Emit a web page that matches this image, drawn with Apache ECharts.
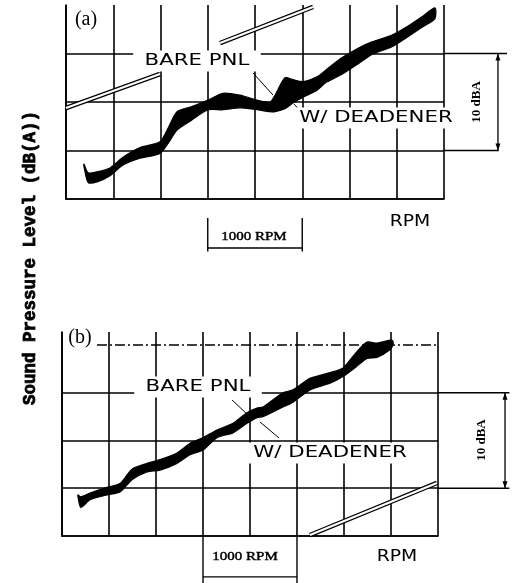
<!DOCTYPE html>
<html>
<head>
<meta charset="utf-8">
<script src="https://cdn.jsdelivr.net/npm/echarts@6/dist/echarts.min.js"></script>
<style>html,body{margin:0;padding:0;background:#fff}#main{width:516px;height:583px}</style>
</head>
<body>
<div id="main"></div>
<script>
// ---- data (RPM offset from left edge of grid, dB(A) relative) ----
const rpmA  = [190, 235, 328, 466, 603, 783, 995, 1085, 1175, 1325, 1503, 1661, 1841, 2021, 2159, 2212, 2317, 2402, 2508, 2656, 2751, 2910, 3101, 3238, 3450, 3598, 3767, 3904];
const bareA = [3.6, 2.7, 2.8, 3.2, 4.3, 5.3, 5.9, 7.4, 9.0, 9.5, 10.2, 10.9, 10.7, 10.2, 10.0, 10.7, 12.5, 12.3, 12.1, 12.6, 13.3, 14.5, 15.6, 16.2, 16.9, 17.7, 18.8, 19.7];
const deadA = [3.35, 1.7, 1.75, 2.4, 3.5, 4.2, 4.7, 5.8, 7.1, 8.1, 9.2, 9.2, 9.4, 9.2, 9.0, 9.0, 9.3, 9.9, 10.5, 11.2, 12.0, 12.8, 14.0, 14.9, 15.7, 16.6, 17.7, 18.6];

const rpmB  = [170, 200, 298, 479, 617, 745, 904, 1043, 1223, 1362, 1500, 1649, 1819, 1968, 2074, 2138, 2351, 2457, 2638, 2851, 2989, 3128, 3245, 3351, 3489, 3520];
const bareB = [4.3, 4.1, 4.5, 5.1, 5.5, 7.0, 7.6, 8.0, 8.7, 9.7, 10.3, 11.1, 11.8, 12.9, 13.4, 13.5, 15.0, 15.3, 16.5, 17.1, 17.6, 19.2, 20.3, 20.2, 20.5, 20.4];
const deadB = [4.1, 3.0, 3.8, 4.3, 4.6, 5.9, 6.7, 6.9, 7.6, 8.5, 9.0, 10.3, 10.8, 11.8, 12.4, 12.5, 13.5, 14.0, 15.3, 16.0, 16.7, 17.7, 18.6, 18.7, 19.5, 20.0];

const rpmMin = 0, rpmMax = 4000, rpmStep = 500;
const dbMin = 0, dbMaxA = 20, dbMaxB = 21.36, dbStep = 5;

const yTitle = 'Sound Pressure Level (dB(A))';
const panelLabels = ['(a)', '(b)'];
const bareLabel = 'BARE PNL';
const deadLabel = 'W/ DEADENER';
const rpmLabel = 'RPM';
const rpmScaleLabel = '1000 RPM';
const dbScaleLabel = '10 dBA';

const INK = '#000';

function xAxisCfg(g) {
  return {
    gridIndex: g, type: 'value', min: rpmMin, max: rpmMax, interval: rpmStep,
    axisLabel: {show: false}, axisTick: {show: false},
    axisLine: {show: true, lineStyle: {color: INK, width: 1.7}},
    splitLine: {show: true, lineStyle: {color: INK, width: 1.6}}
  };
}
function yAxisCfg(g, max, colors) {
  return {
    gridIndex: g, type: 'value', min: dbMin, max: max, interval: dbStep,
    axisLabel: {show: false}, axisTick: {show: false},
    axisLine: {show: true, lineStyle: {color: INK, width: 1.7}},
    splitLine: {show: true, showMaxLine: false, lineStyle: {color: colors, width: 1.6}}
  };
}
function bandSeries(g, xs, up, lo) {
  return {
    type: 'custom', xAxisIndex: g, yAxisIndex: g, z: 5,
    data: xs.map((x, i) => [x, up[i], lo[i]]),
    encode: {x: 0, y: [1, 2]},
    renderItem: function (params, api) {
      if (params.dataIndex !== 0) return null;
      const pts = [];
      for (let i = 0; i < xs.length; i++) pts.push(api.coord([xs[i], up[i]]));
      for (let i = xs.length - 1; i >= 0; i--) pts.push(api.coord([xs[i], lo[i]]));
      return {type: 'polygon', shape: {points: pts, smooth: 0.25},
              style: {fill: INK, stroke: INK, lineWidth: 1.2}};
    }
  };
}

const option = {
  animation: false,
  backgroundColor: '#fff',
  grid: [
    {left: 66, top: 5, width: 378, height: 194},
    {left: 62, top: 332, width: 376, height: 204}
  ],
  xAxis: [xAxisCfg(0), xAxisCfg(1)],
  yAxis: [
    yAxisCfg(0, dbMaxA, [INK]),
    yAxisCfg(1, dbMaxB, [INK, INK, INK, INK, 'rgba(0,0,0,0)'])
  ],
  series: [bandSeries(0, rpmA, bareA, deadA), bandSeries(1, rpmB, bareB, deadB)]
};

const chart = echarts.init(document.getElementById('main'), null, {renderer: 'canvas'});
chart.setOption(option);

function P(g, x, y) { return chart.convertToPixel({gridIndex: g}, [x, y]); }
function line(g, a, b, style) {
  const p = P(g, a[0], a[1]), q = P(g, b[0], b[1]);
  return {type: 'line', z: 50, shape: {x1: p[0], y1: p[1], x2: q[0], y2: q[1]},
          style: Object.assign({stroke: INK, lineWidth: 1.3}, style || {})};
}
function doubleLine(g, a, b) {
  return [line(g, a, b, {lineWidth: 4.6}), line(g, a, b, {stroke: '#fff', lineWidth: 2.2})];
}
function label(g, x, y, str, font, extra) {
  const p = P(g, x, y);
  return Object.assign({
    type: 'text', z: 60, x: p[0], y: p[1],
    style: Object.assign({text: str, x: 0, y: 0, font: font, fill: INK,
                          align: 'center', verticalAlign: 'middle'}, (extra && extra.style) || {})
  }, (extra && extra.el) || {});
}
function arrowHead(g, x, y, dir) {
  const p = P(g, x, y);
  return {type: 'polygon', z: 55,
          shape: {points: [[p[0], p[1]], [p[0] - 2.5, p[1] + dir * 7], [p[0] + 2.5, p[1] + dir * 7]]},
          style: {fill: INK}};
}

const sansFont = '15px "DejaVu Sans"';
const smallSerif = '12px "Liberation Serif"';
const dbFont = 'bold 13px "Liberation Serif"';
const panelFont = '20px "Liberation Serif"';
const bg = {backgroundColor: '#fff', padding: [3, 5]};
const heavy = {stroke: INK, lineWidth: 0.4};

const g = [];
// ---- panel (a) ----
g.push(...doubleLine(0, [0, 9.38], [995, 12.89]));
g.push(...doubleLine(0, [1630, 16.08], [2614, 19.8]));
g.push(line(0, [4000, 15], [4667, 15], {lineWidth: 1.5}));
g.push(line(0, [4000, 5], [4580, 5], {lineWidth: 1.5}));
g.push(line(0, [4571, 15], [4571, 5], {lineWidth: 1.3}));
g.push(arrowHead(0, 4571, 15, 1), arrowHead(0, 4571, 5, -1));
g.push(line(0, [1500, -1.96], [1500, -5.4], {lineWidth: 1.4}));
g.push(line(0, [2500, -1.96], [2500, -5.4], {lineWidth: 1.4}));
g.push(line(0, [1500, -5.05], [2500, -5.05], {lineWidth: 1.4}));
g.push(line(0, [1979, 13.0], [2190, 10.72], {lineWidth: 1}));
g.push(line(0, [2413, 9.79], [2497, 8.87], {lineWidth: 1}));
g.push(label(0, 212, 18.45, panelLabels[0], panelFont, {style: {backgroundColor: '#fff', padding: [0, 2]}}));
g.push(label(0, 1386, 14.23, bareLabel, sansFont, {style: {backgroundColor: '#fff', padding: [3, 8]}, el: {scaleX: 1.42}}));
g.push(label(0, 3280, 8.35, deadLabel, sansFont, {style: bg, el: {scaleX: 1.42}}));
g.push(label(0, 3640, -2.37, rpmLabel, sansFont, {el: {scaleX: 1.25}}));
g.push(label(0, 1989, -3.92, rpmScaleLabel, smallSerif, {style: heavy, el: {scaleX: 1.25}}));
g.push(label(0, 4349, 10.0, dbScaleLabel, dbFont, {el: {rotation: Math.PI / 2}}));
// ---- panel (b) ----
g.push(line(1, [372, 20], [4000, 20], {lineWidth: 1.4, lineDash: [10, 3, 2, 3]}));
g.push(...doubleLine(1, [2638, 0.1], [3989, 5.55]));
g.push(line(1, [4000, 15], [4760, 15], {lineWidth: 1.5}));
g.push(line(1, [4000, 5], [4760, 5], {lineWidth: 1.5}));
g.push(line(1, [4713, 15], [4713, 5], {lineWidth: 1.3}));
g.push(arrowHead(1, 4713, 15, 1), arrowHead(1, 4713, 5, -1));
g.push(line(1, [1500, 0], [1500, -4.92], {lineWidth: 1.4}));
g.push(line(1, [2500, 0], [2500, -4.92], {lineWidth: 1.4}));
g.push(line(1, [1500, -4.29], [2500, -4.29], {lineWidth: 1.3}));
g.push(line(1, [1809, 14.24], [1968, 12.77], {lineWidth: 1}));
g.push(line(1, [2106, 11.94], [2309, 10.26], {lineWidth: 1}));
g.push(label(1, 191, 20.73, panelLabels[1], panelFont, {style: {backgroundColor: '#fff', padding: [0, 2]}}));
g.push(label(1, 1447, 15.6, bareLabel, sansFont, {style: {backgroundColor: '#fff', padding: [3, 8]}, el: {scaleX: 1.42}}));
g.push(label(1, 2851, 8.69, deadLabel, sansFont, {style: bg, el: {scaleX: 1.42}}));
g.push(label(1, 3564, -2.2, rpmLabel, sansFont, {el: {scaleX: 1.25}}));
g.push(label(1, 1947, -2.2, rpmScaleLabel, smallSerif, {style: heavy, el: {scaleX: 1.25}}));
g.push(label(1, 4468, 10.05, dbScaleLabel, dbFont, {el: {rotation: Math.PI / 2}}));
// ---- shared y-axis title ----
g.push({type: 'text', z: 60, x: 31, y: 258, rotation: Math.PI / 2,
        style: {text: yTitle, x: 0, y: 0, font: 'bold 17.5px "Liberation Mono"', fill: INK,
                stroke: INK, lineWidth: 0.8,
                align: 'center', verticalAlign: 'middle'}});

chart.setOption({graphic: g});
</script>
</body>
</html>
